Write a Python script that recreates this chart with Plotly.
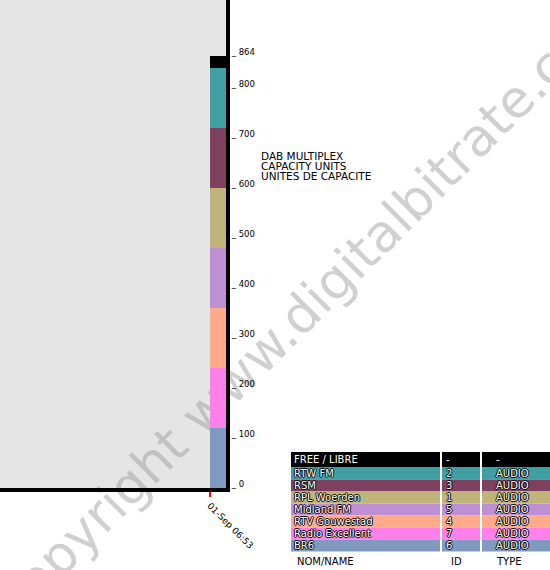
import plotly.graph_objects as go

# services on the multiplex, top of the stack first (same order as the table)
services = ["FREE / LIBRE", "RTW FM", "RSM", "RPL Woerden", "Midland FM",
            "RTV Gouwestad", "Radio Excellent", "BR6"]
service_ids = ["-", "2", "3", "1", "5", "4", "7", "6"]
service_types = ["-", "AUDIO", "AUDIO", "AUDIO", "AUDIO", "AUDIO", "AUDIO", "AUDIO"]
capacity_units = [24, 120, 120, 120, 120, 120, 120, 120]
colors = ["#000000", "#3f9fa3", "#7f3f5f", "#bfb57b", "#bf8fd3",
          "#ffaa88", "#ff80ea", "#7f99bf"]

timestamp = "01-Sep 06:53"
cu_ticks = [0, 100, 200, 300, 400, 500, 600, 700, 800, 864]
axis_title = ["DAB MULTIPLEX", "CAPACITY UNITS", "UNITES DE CAPACITE"]
table_footer = ["NOM/NAME", "ID", "TYPE"]
watermark = "copyright www.digitalbitrate.com"

W, H = 550, 570
FONT = "DejaVu Sans"
OUTLINE = "1px 0 0 #000, -1px 0 0 #000, 0 1px 0 #000, 0 -1px 0 #000"


def px(x):
    return x / W


def py(y):
    return 1 - y / H


fig = go.Figure()

# stacked bar, bottom service first
for name, cu, col in zip(services[::-1], capacity_units[::-1], colors[::-1]):
    fig.add_trace(go.Bar(x=[0], y=[cu], width=[1], offset=0, name=name,
                         marker=dict(color=col, line=dict(width=0)),
                         showlegend=False))

# watermark, behind the bar
fig.add_shape(type="rect", xref="paper", yref="paper",
              x0=px(302), x1=px(312), y0=py(307), y1=py(297),
              layer="below", line_width=0, fillcolor="rgba(0,0,0,0)",
              label=dict(text=watermark, textangle=-45,
                         font=dict(family=FONT, size=52,
                                   color="rgba(150,150,150,0.45)")))

# axis caption
for i, line in enumerate(axis_title):
    fig.add_annotation(x=px(259), y=py(156 + 10 * i), xref="paper", yref="paper",
                       text=line, showarrow=False, xanchor="left", yanchor="middle",
                       font=dict(family=FONT, size=10.5, color="black"))

# legend table
col_edges = [(291, 440), (442, 480), (482, 550)]
text_x = [292, 444, 494]
footer_x = [295, 449, 494]
row_edges = [452, 467.5] + [467.5 + 12 * i for i in range(1, 8)]
for i, row in enumerate(zip(services, service_ids, service_types)):
    y0, y1 = row_edges[i], row_edges[i + 1]
    for j, cell in enumerate(row):
        fig.add_shape(type="rect", xref="paper", yref="paper",
                      x0=px(col_edges[j][0]), x1=px(col_edges[j][1]),
                      y0=py(y1), y1=py(y0), fillcolor=colors[i], line_width=0)
        fig.add_annotation(x=px(text_x[j]), y=py((y0 + y1) / 2), xref="paper", yref="paper",
                           text=cell, showarrow=False, xanchor="left", yanchor="middle",
                           font=dict(family=FONT, size=10, color="white", shadow=OUTLINE))
for j, cell in enumerate(table_footer):
    fig.add_annotation(x=px(footer_x[j]), y=py(561), xref="paper", yref="paper",
                       text=cell, showarrow=False, xanchor="left", yanchor="middle",
                       font=dict(family=FONT, size=10, color="black"))

fig.update_layout(
    width=W, height=H,
    margin=dict(l=0, r=0, t=0, b=0),
    paper_bgcolor="white", plot_bgcolor="#e5e5e5",
    barmode="stack", bargap=0, showlegend=False,
    xaxis=dict(domain=[0, 226 / W], range=[-13.125, 1], automargin=False,
               showgrid=False, zeroline=False, showline=True,
               linecolor="black", linewidth=4,
               tickvals=[0], ticktext=[timestamp], tickangle=45,
               ticks="outside", ticklen=5, tickwidth=2, tickcolor="red",
               tickfont=dict(family=FONT, size=9, color="black")),
    yaxis=dict(domain=[82 / H, 1], range=[0, 976], side="right", automargin=False,
               showgrid=False, zeroline=False, showline=True,
               linecolor="black", linewidth=4,
               tickvals=cu_ticks, ticktext=["_ %d" % v for v in cu_ticks],
               ticks="", ticklabelshift=-4,
               tickfont=dict(family=FONT, size=8.5, color="black")),
)

# the page's default body margin would push the figure 8px in
fig.write_html("out.html", config={"displayModeBar": False},
               post_script="document.body.style.margin = '0';")
